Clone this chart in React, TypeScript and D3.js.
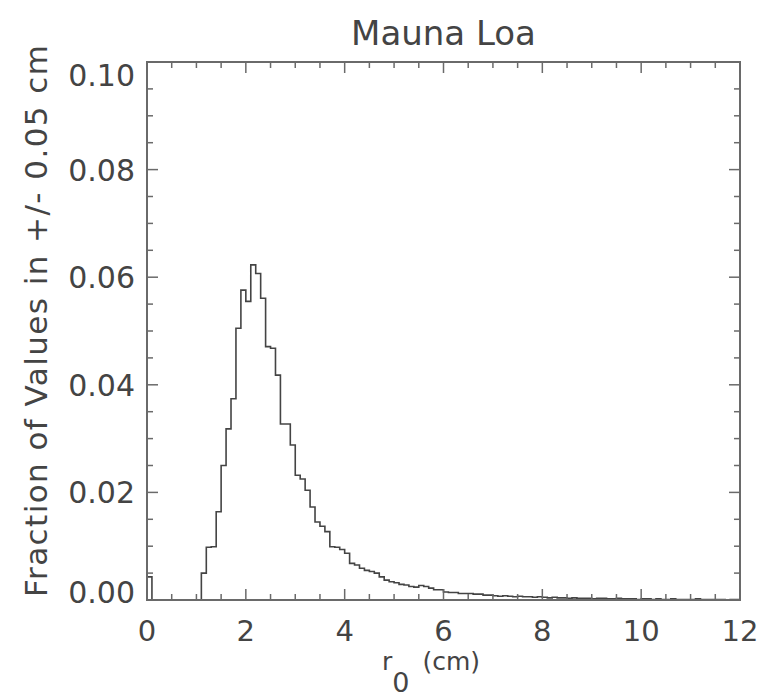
import React from "react";
import * as d3 from "d3";

const TITLE = "Mauna Loa";
const Y_LABEL = "Fraction of Values in +/- 0.05 cm";
const BIN_WIDTH = 0.1;
const X_TICKS = [0, 2, 4, 6, 8, 10, 12];
const Y_TICKS = [0, 0.02, 0.04, 0.06, 0.08, 0.1];
const Y_TICK_LABELS = ["0.00", "0.02", "0.04", "0.06", "0.08", "0.10"];

// fraction of values per 0.1 cm bin, bins starting at 0.0, 0.1, ... 11.9
const FRACTIONS = [
  0.0043, 0, 0, 0, 0, 0, 0, 0, 0, 0,
  0, 0.0050, 0.0098, 0.0099, 0.0164, 0.0250, 0.0318, 0.0374, 0.0505, 0.0576,
  0.0555, 0.0623, 0.0607, 0.0561, 0.0471, 0.0468, 0.0418, 0.0327, 0.0327, 0.0288,
  0.0232, 0.0225, 0.0204, 0.0173, 0.0145, 0.0137, 0.0127, 0.0099, 0.0098, 0.0094,
  0.0087, 0.0068, 0.0065, 0.0059, 0.0055, 0.0053, 0.0050, 0.0043, 0.0037, 0.0034,
  0.0032, 0.0029, 0.0028, 0.0025, 0.0024, 0.0027, 0.0025, 0.0022, 0.0019, 0.0019,
  0.0015, 0.0014, 0.0014, 0.0012, 0.0012, 0.0012, 0.0011, 0.0011, 0.0009, 0.0009,
  0.0008, 0.0007, 0.0008, 0.0007, 0.0006, 0.0007, 0.0006, 0.0006, 0.0005, 0.0006,
  0.0005, 0.0004, 0.0005, 0.0004, 0.0004, 0.0003, 0.0004, 0.0003, 0.0003, 0.0003,
  0.0002, 0.0003, 0.0003, 0.0002, 0.0002, 0.0003, 0.0002, 0.0002, 0.0002, 0.0001,
  0.0002, 0.0002, 0.0001, 0.0002, 0.0001, 0.0001, 0.0002, 0.0001, 0.0001, 0.0001,
  0.0001, 0.0002, 0.0001, 0.0001, 0.0001, 0.0001, 0.0001, 0.0000, 0.0001, 0.0001,
];

const W = 762;
const H = 699;
const L = 147;
const R = 740;
const T = 62;
const B = 600;
const FONT = "'DejaVu Sans', sans-serif";
const AXIS_COLOR = "#6a6a6a";
const TEXT_COLOR = "#444";

export default function App() {
  const x = d3.scaleLinear().domain([0, 12]).range([L, R]);
  const y = d3.scaleLinear().domain([0, 0.1]).range([B, T]);

  const pts: [number, number][] = [[0, 0]];
  FRACTIONS.forEach((v, i) => pts.push([i * BIN_WIDTH, v]));
  pts.push([FRACTIONS.length * BIN_WIDTH, FRACTIONS[FRACTIONS.length - 1]]);
  const line = d3
    .line<[number, number]>()
    .x((d) => x(d[0]))
    .y((d) => y(d[1]))
    .curve(d3.curveStepAfter);

  const xMinor = d3.range(0, 12.001, 0.5);
  const yMinor = d3.range(0, 0.1001, 0.005);
  const MAJ = 11;
  const MIN = 6;

  return (
    <svg
      width={W}
      height={H}
      style={{ position: "absolute", left: 0, top: 0, background: "#fff" }}
      fontFamily={FONT}
    >
      <rect x={0} y={0} width={W} height={H} fill="#fff" />
      <text x={(L + R) / 2} y={45} textAnchor="middle" fontSize={34} fill={TEXT_COLOR}>
        {TITLE}
      </text>

      {/* histogram */}
      <path d={line(pts) || ""} fill="none" stroke="#444" strokeWidth={1.6} />

      {/* frame */}
      <rect x={L} y={T} width={R - L} height={B - T} fill="none" stroke={AXIS_COLOR} strokeWidth={2} />

      {/* ticks */}
      {xMinor.map((v, i) => {
        const major = Math.abs(v / 2 - Math.round(v / 2)) < 1e-6;
        const len = major ? MAJ : MIN;
        return (
          <g key={"xt" + i} stroke={AXIS_COLOR} strokeWidth={1.5}>
            <line x1={x(v)} x2={x(v)} y1={B} y2={B - len} />
            <line x1={x(v)} x2={x(v)} y1={T} y2={T + len} />
          </g>
        );
      })}
      {yMinor.map((v, i) => {
        const major = i % 4 === 0;
        const len = major ? MAJ : MIN;
        return (
          <g key={"yt" + i} stroke={AXIS_COLOR} strokeWidth={1.5}>
            <line x1={L} x2={L + len} y1={y(v)} y2={y(v)} />
            <line x1={R} x2={R - len} y1={y(v)} y2={y(v)} />
          </g>
        );
      })}

      {/* x tick labels */}
      {X_TICKS.map((v) => (
        <text key={"xl" + v} x={x(v)} y={641} textAnchor="middle" fontSize={29} fill={TEXT_COLOR}>
          {v}
        </text>
      ))}
      {/* y tick labels */}
      {Y_TICKS.map((v, i) => {
        const cy = Math.min(Math.max(y(v), T + 13), B - 8);
        return (
          <text key={"yl" + i} x={135} y={cy + 11} textAnchor="end" fontSize={30} fill={TEXT_COLOR}>
            {Y_TICK_LABELS[i]}
          </text>
        );
      })}

      {/* x axis title */}
      <text x={382} y={670} fontSize={25} fill={TEXT_COLOR}>
        <tspan>r</tspan>
        <tspan dy={22} fontSize={27}>0</tspan>
        <tspan dy={-22} dx={5}> (cm)</tspan>
      </text>

      {/* y axis title */}
      <text
        transform={`translate(47, 321) rotate(-90)`}
        textAnchor="middle"
        fontSize={31}
        textLength={552}
        lengthAdjust="spacing"
        fill={TEXT_COLOR}
      >
        {Y_LABEL}
      </text>
    </svg>
  );
}
